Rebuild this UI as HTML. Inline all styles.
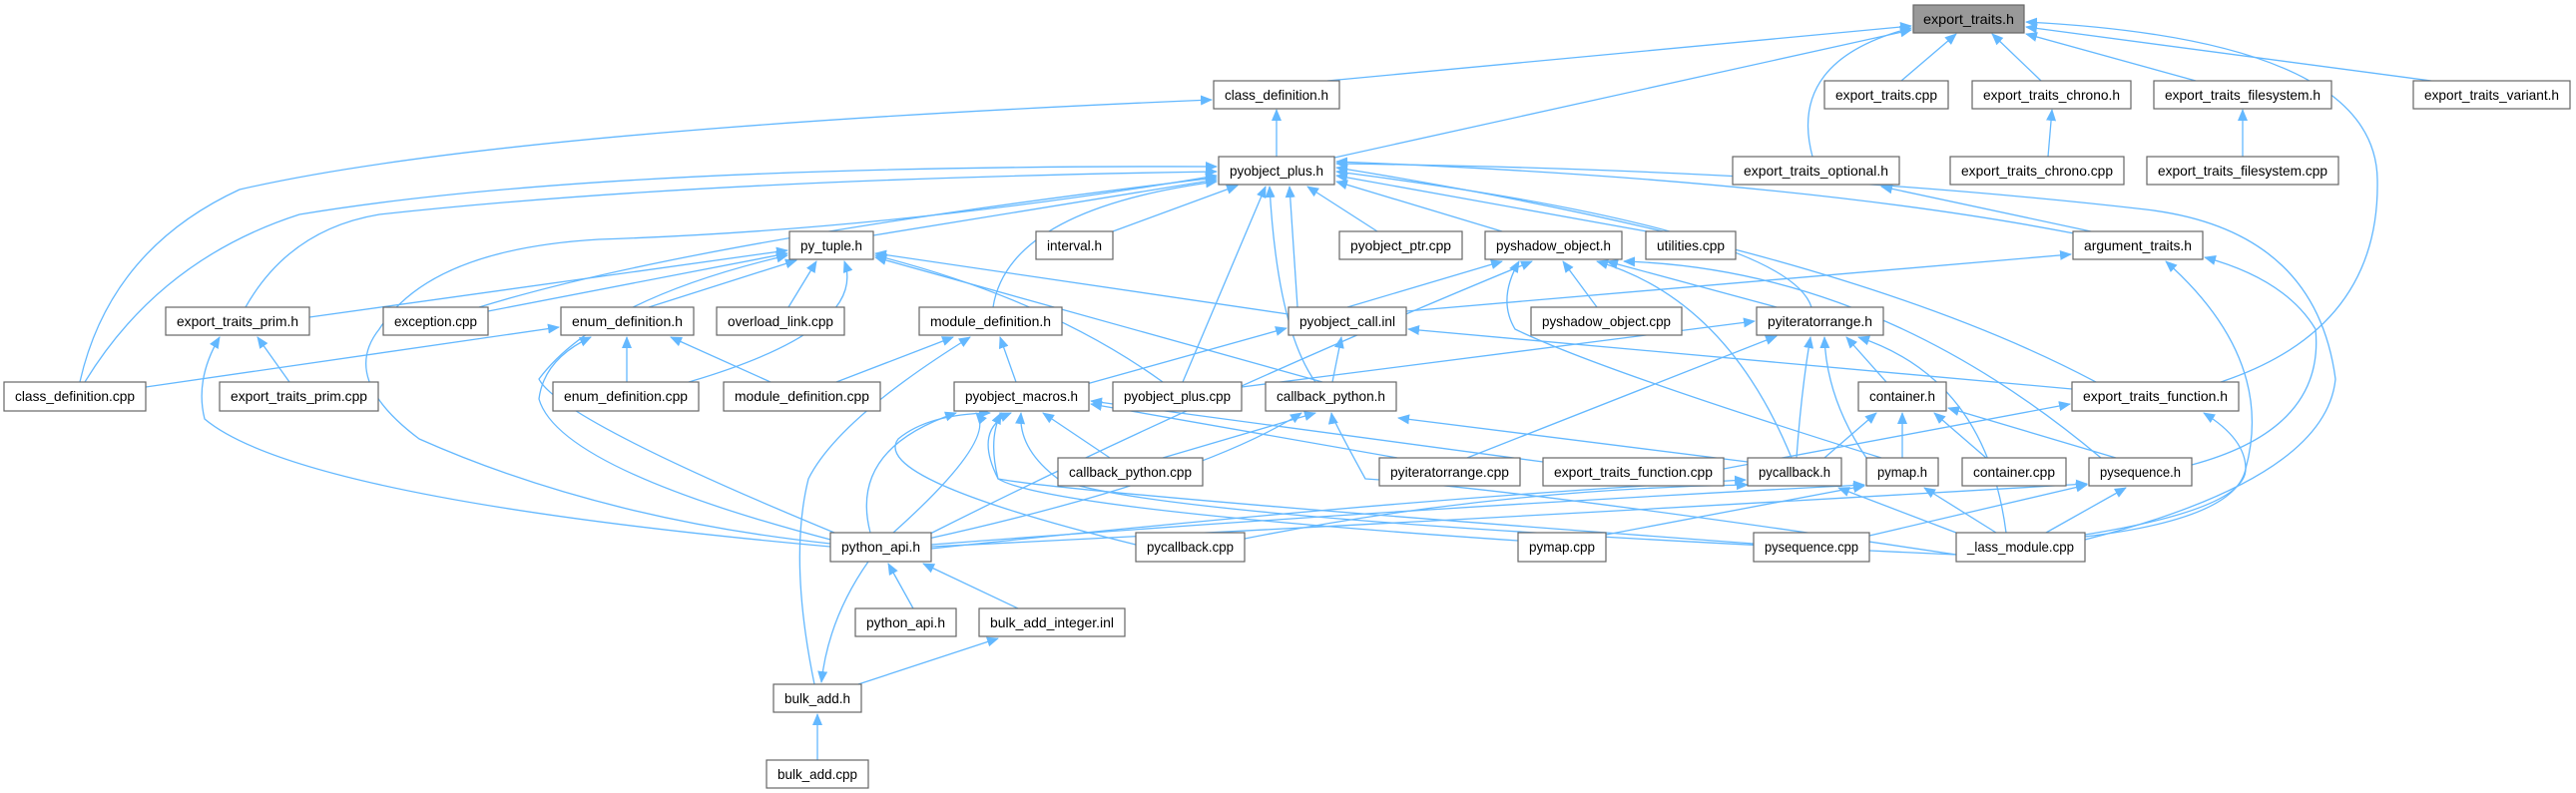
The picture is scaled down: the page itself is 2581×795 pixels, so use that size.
<!DOCTYPE html>
<html><head><meta charset="utf-8"><style>
html,body{margin:0;padding:0;background:#fff;}
svg{display:block;}
.b{fill:#fff;stroke:#666;stroke-width:1.2;}
.t{font-family:"Liberation Sans",sans-serif;font-size:14px;fill:#000;}
.e{fill:none;stroke:#63b8ff;stroke-width:1.3;marker-end:url(#ar);}
</style></head><body>
<svg width="2581" height="795" viewBox="0 0 2581 795" xmlns="http://www.w3.org/2000/svg">
<defs><marker id="ar" markerUnits="userSpaceOnUse" markerWidth="12" markerHeight="12" viewBox="0 0 12 12" refX="11" refY="6" orient="auto"><path d="M0,1 L12,6 L0,11 Z" fill="#63b8ff"/></marker></defs>
<g>
<!-- to export_traits.h -->
<path class="e" d="M1330,81 L1915,26"/>
<path class="e" d="M1337,158 L1915,30"/>
<path class="e" d="M1816,157 Q1790,60 1915,28"/>
<path class="e" d="M1905,81 L1960,34"/>
<path class="e" d="M2045,81 L1996,34"/>
<path class="e" d="M2200,81 L2030,34"/>
<path class="e" d="M2436,81 L2030,27"/>
<path class="e" d="M2225,383 Q2385,330 2382,180 Q2380,40 2030,22"/>
<!-- to class_definition.h -->
<path class="e" d="M1279,157 L1279,110"/>
<path class="e" d="M80,383 Q110,250 240,190 Q500,130 1214,100"/>
<path class="e" d="M2052,157 L2056,110"/>
<path class="e" d="M2247,157 L2247,110"/>
<path class="e" d="M2095,232 L1885,187"/>
<!-- to pyobject_plus.h -->
<path class="e" d="M85,383 Q160,260 300,215 Q600,165 1219,167"/>
<path class="e" d="M246,308 Q290,230 380,215 Q700,180 1219,172"/>
<path class="e" d="M832,545 Q600,520 420,440 Q340,380 380,330 Q430,250 600,240 Q900,230 1219,176"/>
<path class="e" d="M480,308 Q700,240 1219,178"/>
<path class="e" d="M875,236 L1219,180"/>
<path class="e" d="M995,308 Q1010,210 1219,182"/>
<path class="e" d="M1115,232 L1240,186"/>
<path class="e" d="M1185,383 L1268,187"/>
<path class="e" d="M1318,383 Q1280,330 1272,187"/>
<path class="e" d="M1300,308 L1292,187"/>
<path class="e" d="M1380,232 L1310,187"/>
<path class="e" d="M1505,232 L1339,182"/>
<path class="e" d="M1650,232 L1339,176"/>
<path class="e" d="M1815,308 Q1790,230 1339,172"/>
<path class="e" d="M2100,383 Q1850,250 1339,168"/>
<path class="e" d="M2089,541 Q2330,480 2340,380 Q2320,230 2150,210 Q1800,170 1339,164"/>
<path class="e" d="M2078,234 Q1800,180 1339,162"/>
<!-- to py_tuple.h -->
<path class="e" d="M310,318 L789,251"/>
<path class="e" d="M489,312 L789,254"/>
<path class="e" d="M650,308 L798,261"/>
<path class="e" d="M790,308 L818,262"/>
<path class="e" d="M690,383 Q870,330 846,262"/>
<path class="e" d="M836,534 Q560,420 540,380 Q600,300 789,256"/>
<path class="e" d="M1291,315 L877,254"/>
<path class="e" d="M1165,383 Q1050,300 877,256"/>
<path class="e" d="M1325,383 L877,258"/>
<!-- to export_traits_prim.h / enum_definition.h / module_definition.h -->
<path class="e" d="M290,383 L258,338"/>
<path class="e" d="M832,548 Q300,500 205,420 Q195,380 220,338"/>
<path class="e" d="M146,388 L560,328"/>
<path class="e" d="M628,383 L628,338"/>
<path class="e" d="M772,383 L672,338"/>
<path class="e" d="M836,542 Q560,470 540,400 Q545,360 592,338"/>
<path class="e" d="M838,383 L955,338"/>
<path class="e" d="M1018,383 L1002,338"/>
<path class="e" d="M816,686 Q790,560 810,480 Q840,420 972,338"/>
<!-- to pyobject_call.inl -->
<path class="e" d="M1085,386 L1289,329"/>
<path class="e" d="M1335,383 L1344,338"/>
<path class="e" d="M2076,390 L1411,330"/>
<path class="e" d="M1409,312 L2075,255"/>
<!-- to pyshadow_object.h -->
<path class="e" d="M1350,308 L1505,262"/>
<path class="e" d="M1600,308 L1566,262"/>
<path class="e" d="M1780,308 L1610,262"/>
<path class="e" d="M1795,459 Q1730,300 1600,262"/>
<path class="e" d="M1885,459 Q1600,370 1518,330 Q1500,300 1522,262"/>
<path class="e" d="M930,536 Q1200,400 1535,262"/>
<path class="e" d="M2105,459 Q1880,270 1627,262"/>
<!-- to pyiteratorrange.h -->
<path class="e" d="M1244,388 L1758,322"/>
<path class="e" d="M1470,459 L1780,337"/>
<path class="e" d="M1800,459 Q1805,390 1814,338"/>
<path class="e" d="M1870,459 Q1830,400 1828,338"/>
<path class="e" d="M1890,383 L1850,338"/>
<path class="e" d="M2010,534 Q1990,380 1862,338"/>
<!-- to callback_python.h -->
<path class="e" d="M1165,459 L1318,414"/>
<path class="e" d="M930,540 Q1200,480 1304,414"/>
<path class="e" d="M1751,463 L1401,419"/>
<path class="e" d="M1960,556 Q1520,490 1368,480 Q1335,420 1334,414"/>
<!-- to pyobject_macros.h -->
<path class="e" d="M872,534 Q850,450 958,414"/>
<path class="e" d="M895,534 Q1000,440 978,414"/>
<path class="e" d="M1138,546 Q870,480 900,440 Q930,415 992,414"/>
<path class="e" d="M1521,542 Q1050,510 1000,480 Q990,440 1003,414"/>
<path class="e" d="M1757,545 Q1080,495 1000,480 Q975,430 1013,414"/>
<path class="e" d="M1960,556 Q1150,520 1060,480 Q1020,450 1023,414"/>
<path class="e" d="M1112,459 L1045,414"/>
<path class="e" d="M1400,459 L1093,405"/>
<path class="e" d="M1546,463 L1093,402"/>
<!-- to container.h -->
<path class="e" d="M1828,459 L1880,414"/>
<path class="e" d="M1906,459 L1906,414"/>
<path class="e" d="M1990,459 L1938,414"/>
<path class="e" d="M2120,459 L1952,409"/>
<!-- to pycallback.h / pymap.h / pysequence.h -->
<path class="e" d="M933,550 Q1400,500 1749,481"/>
<path class="e" d="M1247,540 Q1500,490 1751,486"/>
<path class="e" d="M1960,534 L1842,489"/>
<path class="e" d="M933,546 Q1400,510 1868,486"/>
<path class="e" d="M1609,536 L1868,487"/>
<path class="e" d="M2000,534 L1928,489"/>
<path class="e" d="M933,548 Q1500,520 2091,485"/>
<path class="e" d="M1873,537 L2091,486"/>
<path class="e" d="M2050,534 L2130,489"/>
<!-- to export_traits_function.h / argument_traits.h -->
<path class="e" d="M1727,470 L2074,405"/>
<path class="e" d="M2089,536 Q2250,510 2250,470 Q2250,440 2208,414"/>
<path class="e" d="M2089,538 Q2240,520 2250,470 Q2280,360 2170,262"/>
<path class="e" d="M2196,466 Q2330,430 2320,330 Q2290,280 2209,258"/>
<!-- bottom -->
<path class="e" d="M915,610 L890,565"/>
<path class="e" d="M1020,610 L925,565"/>
<path class="e" d="M870,563 Q830,620 823,684"/>
<path class="e" d="M860,686 L1000,640"/>
<path class="e" d="M819,762 L819,716"/>
</g>
<g>
<rect class="b" x="1917" y="5" width="111" height="28" style="fill:#999"/><text class="t" x="1972.5" y="24" text-anchor="middle" textLength="91" lengthAdjust="spacingAndGlyphs">export_traits.h</text>
<rect class="b" x="1216" y="81" width="126" height="28"/><text class="t" x="1279" y="100" text-anchor="middle" textLength="104" lengthAdjust="spacingAndGlyphs">class_definition.h</text>
<rect class="b" x="1828" y="81" width="124" height="28"/><text class="t" x="1890" y="100" text-anchor="middle" textLength="102" lengthAdjust="spacingAndGlyphs">export_traits.cpp</text>
<rect class="b" x="1976" y="81" width="159" height="28"/><text class="t" x="2055.5" y="100" text-anchor="middle" textLength="137" lengthAdjust="spacingAndGlyphs">export_traits_chrono.h</text>
<rect class="b" x="2158" y="81" width="178" height="28"/><text class="t" x="2247" y="100" text-anchor="middle" textLength="156" lengthAdjust="spacingAndGlyphs">export_traits_filesystem.h</text>
<rect class="b" x="2418" y="81" width="157" height="28"/><text class="t" x="2496.5" y="100" text-anchor="middle" textLength="135" lengthAdjust="spacingAndGlyphs">export_traits_variant.h</text>
<rect class="b" x="1221" y="157" width="116" height="28"/><text class="t" x="1279" y="176" text-anchor="middle" textLength="94" lengthAdjust="spacingAndGlyphs">pyobject_plus.h</text>
<rect class="b" x="1736" y="157" width="167" height="28"/><text class="t" x="1819.5" y="176" text-anchor="middle" textLength="145" lengthAdjust="spacingAndGlyphs">export_traits_optional.h</text>
<rect class="b" x="1954" y="157" width="174" height="28"/><text class="t" x="2041" y="176" text-anchor="middle" textLength="152" lengthAdjust="spacingAndGlyphs">export_traits_chrono.cpp</text>
<rect class="b" x="2151" y="157" width="192" height="28"/><text class="t" x="2247" y="176" text-anchor="middle" textLength="170" lengthAdjust="spacingAndGlyphs">export_traits_filesystem.cpp</text>
<rect class="b" x="791" y="232" width="84" height="28"/><text class="t" x="833" y="251" text-anchor="middle" textLength="62" lengthAdjust="spacingAndGlyphs">py_tuple.h</text>
<rect class="b" x="1038" y="232" width="77" height="28"/><text class="t" x="1076.5" y="251" text-anchor="middle" textLength="55" lengthAdjust="spacingAndGlyphs">interval.h</text>
<rect class="b" x="1342" y="232" width="123" height="28"/><text class="t" x="1403.5" y="251" text-anchor="middle" textLength="101" lengthAdjust="spacingAndGlyphs">pyobject_ptr.cpp</text>
<rect class="b" x="1488" y="232" width="137" height="28"/><text class="t" x="1556.5" y="251" text-anchor="middle" textLength="115" lengthAdjust="spacingAndGlyphs">pyshadow_object.h</text>
<rect class="b" x="1649" y="232" width="90" height="28"/><text class="t" x="1694" y="251" text-anchor="middle" textLength="68" lengthAdjust="spacingAndGlyphs">utilities.cpp</text>
<rect class="b" x="2077" y="232" width="130" height="28"/><text class="t" x="2142" y="251" text-anchor="middle" textLength="108" lengthAdjust="spacingAndGlyphs">argument_traits.h</text>
<rect class="b" x="166" y="308" width="144" height="28"/><text class="t" x="238" y="327" text-anchor="middle" textLength="122" lengthAdjust="spacingAndGlyphs">export_traits_prim.h</text>
<rect class="b" x="384" y="308" width="105" height="28"/><text class="t" x="436.5" y="327" text-anchor="middle" textLength="83" lengthAdjust="spacingAndGlyphs">exception.cpp</text>
<rect class="b" x="562" y="308" width="133" height="28"/><text class="t" x="628.5" y="327" text-anchor="middle" textLength="111" lengthAdjust="spacingAndGlyphs">enum_definition.h</text>
<rect class="b" x="718" y="308" width="128" height="28"/><text class="t" x="782" y="327" text-anchor="middle" textLength="106" lengthAdjust="spacingAndGlyphs">overload_link.cpp</text>
<rect class="b" x="921" y="308" width="143" height="28"/><text class="t" x="992.5" y="327" text-anchor="middle" textLength="121" lengthAdjust="spacingAndGlyphs">module_definition.h</text>
<rect class="b" x="1291" y="308" width="118" height="28"/><text class="t" x="1350" y="327" text-anchor="middle" textLength="96" lengthAdjust="spacingAndGlyphs">pyobject_call.inl</text>
<rect class="b" x="1534" y="308" width="151" height="28"/><text class="t" x="1609.5" y="327" text-anchor="middle" textLength="129" lengthAdjust="spacingAndGlyphs">pyshadow_object.cpp</text>
<rect class="b" x="1760" y="308" width="127" height="28"/><text class="t" x="1823.5" y="327" text-anchor="middle" textLength="105" lengthAdjust="spacingAndGlyphs">pyiteratorrange.h</text>
<rect class="b" x="4" y="383" width="142" height="29"/><text class="t" x="75" y="402" text-anchor="middle" textLength="120" lengthAdjust="spacingAndGlyphs">class_definition.cpp</text>
<rect class="b" x="220" y="383" width="159" height="29"/><text class="t" x="299.5" y="402" text-anchor="middle" textLength="137" lengthAdjust="spacingAndGlyphs">export_traits_prim.cpp</text>
<rect class="b" x="554" y="383" width="146" height="29"/><text class="t" x="627" y="402" text-anchor="middle" textLength="124" lengthAdjust="spacingAndGlyphs">enum_definition.cpp</text>
<rect class="b" x="725" y="383" width="157" height="29"/><text class="t" x="803.5" y="402" text-anchor="middle" textLength="135" lengthAdjust="spacingAndGlyphs">module_definition.cpp</text>
<rect class="b" x="956" y="383" width="135" height="29"/><text class="t" x="1023.5" y="402" text-anchor="middle" textLength="113" lengthAdjust="spacingAndGlyphs">pyobject_macros.h</text>
<rect class="b" x="1115" y="383" width="129" height="29"/><text class="t" x="1179.5" y="402" text-anchor="middle" textLength="107" lengthAdjust="spacingAndGlyphs">pyobject_plus.cpp</text>
<rect class="b" x="1268" y="383" width="131" height="29"/><text class="t" x="1333.5" y="402" text-anchor="middle" textLength="109" lengthAdjust="spacingAndGlyphs">callback_python.h</text>
<rect class="b" x="1862" y="383" width="88" height="29"/><text class="t" x="1906" y="402" text-anchor="middle" textLength="66" lengthAdjust="spacingAndGlyphs">container.h</text>
<rect class="b" x="2076" y="383" width="167" height="29"/><text class="t" x="2159.5" y="402" text-anchor="middle" textLength="145" lengthAdjust="spacingAndGlyphs">export_traits_function.h</text>
<rect class="b" x="1060" y="459" width="145" height="28"/><text class="t" x="1132.5" y="478" text-anchor="middle" textLength="123" lengthAdjust="spacingAndGlyphs">callback_python.cpp</text>
<rect class="b" x="1382" y="459" width="141" height="28"/><text class="t" x="1452.5" y="478" text-anchor="middle" textLength="119" lengthAdjust="spacingAndGlyphs">pyiteratorrange.cpp</text>
<rect class="b" x="1546" y="459" width="181" height="28"/><text class="t" x="1636.5" y="478" text-anchor="middle" textLength="159" lengthAdjust="spacingAndGlyphs">export_traits_function.cpp</text>
<rect class="b" x="1751" y="459" width="94" height="28"/><text class="t" x="1798" y="478" text-anchor="middle" textLength="72" lengthAdjust="spacingAndGlyphs">pycallback.h</text>
<rect class="b" x="1870" y="459" width="72" height="28"/><text class="t" x="1906" y="478" text-anchor="middle" textLength="50" lengthAdjust="spacingAndGlyphs">pymap.h</text>
<rect class="b" x="1966" y="459" width="104" height="28"/><text class="t" x="2018" y="478" text-anchor="middle" textLength="82" lengthAdjust="spacingAndGlyphs">container.cpp</text>
<rect class="b" x="2093" y="459" width="103" height="28"/><text class="t" x="2144.5" y="478" text-anchor="middle" textLength="81" lengthAdjust="spacingAndGlyphs">pysequence.h</text>
<rect class="b" x="832" y="534" width="101" height="29"/><text class="t" x="882.5" y="553" text-anchor="middle" textLength="79" lengthAdjust="spacingAndGlyphs">python_api.h</text>
<rect class="b" x="1138" y="534" width="109" height="29"/><text class="t" x="1192.5" y="553" text-anchor="middle" textLength="87" lengthAdjust="spacingAndGlyphs">pycallback.cpp</text>
<rect class="b" x="1521" y="534" width="88" height="29"/><text class="t" x="1565" y="553" text-anchor="middle" textLength="66" lengthAdjust="spacingAndGlyphs">pymap.cpp</text>
<rect class="b" x="1757" y="534" width="116" height="29"/><text class="t" x="1815" y="553" text-anchor="middle" textLength="94" lengthAdjust="spacingAndGlyphs">pysequence.cpp</text>
<rect class="b" x="1960" y="534" width="129" height="29"/><text class="t" x="2024.5" y="553" text-anchor="middle" textLength="107" lengthAdjust="spacingAndGlyphs">_lass_module.cpp</text>
<rect class="b" x="857" y="610" width="101" height="28"/><text class="t" x="907.5" y="629" text-anchor="middle" textLength="79" lengthAdjust="spacingAndGlyphs">python_api.h</text>
<rect class="b" x="981" y="610" width="146" height="28"/><text class="t" x="1054" y="629" text-anchor="middle" textLength="124" lengthAdjust="spacingAndGlyphs">bulk_add_integer.inl</text>
<rect class="b" x="775" y="686" width="88" height="28"/><text class="t" x="819" y="705" text-anchor="middle" textLength="66" lengthAdjust="spacingAndGlyphs">bulk_add.h</text>
<rect class="b" x="768" y="762" width="102" height="28"/><text class="t" x="819" y="781" text-anchor="middle" textLength="80" lengthAdjust="spacingAndGlyphs">bulk_add.cpp</text>
</g>
</svg>
</body></html>
